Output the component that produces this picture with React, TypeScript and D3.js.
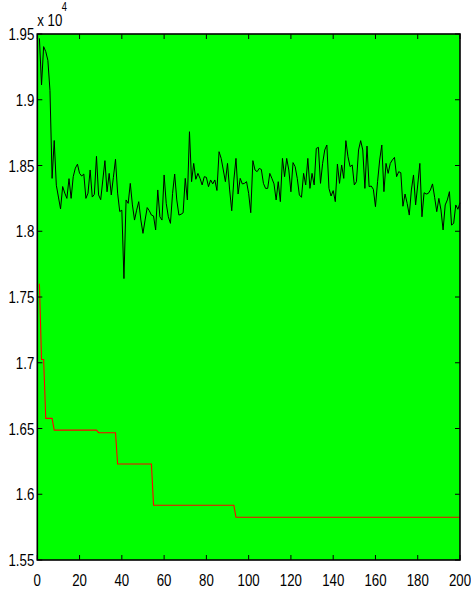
import React from "react";
import * as d3 from "d3";

// Iteration index for each point of the per-iteration (black) series
const iterations: number[] = d3.range(1, 201);

// Per-iteration value (black line), raw units
const currentValues: number[] = [
  19467, 19112, 19404, 19366, 19300, 19070, 18402, 18690, 18350, 18260,
  18170, 18340, 18290, 18250, 18400, 18250, 18415, 18480, 18510, 18440,
  18420, 18435, 18250, 18290, 18466, 18260, 18280, 18570, 18276, 18240,
  18390, 18537, 18300, 18440, 18276, 18410, 18547, 18290, 18150, 18160,
  17640, 18238, 18212, 18364, 18200, 18085, 18160, 18225, 18085, 17984,
  18085, 18180, 18156, 18123, 18116, 18010, 18314, 18110, 18085, 18428,
  18212, 18110, 18060, 18288, 18435, 18238, 18123, 18129, 18140, 18402,
  18238, 18757, 18377, 18516, 18395, 18440, 18402, 18352, 18415, 18410,
  18339, 18390, 18360, 18390, 18310, 18605, 18554, 18466, 18377, 18516,
  18314, 18156, 18390, 18554, 18283, 18402, 18360, 18364, 18377, 18288,
  18141, 18537, 18466, 18453, 18478, 18470, 18364, 18326, 18326, 18440,
  18402, 18360, 18238, 18377, 18225, 18554, 18415, 18554, 18466, 18300,
  18522, 18491, 18402, 18276, 18258, 18440, 18352, 18554, 18326, 18440,
  18352, 18630, 18638, 18364, 18516, 18618, 18656, 18326, 18268, 18309,
  18225, 18511, 18364, 18504, 18402, 18689, 18567, 18491, 18504, 18352,
  18377, 18618, 18689, 18618, 18326, 18648, 18339, 18344, 18319, 18187,
  18377, 18542, 18656, 18301, 18516, 18440, 18516, 18542, 18562, 18415,
  18453, 18445, 18190, 18283, 18212, 18123, 18314, 18428, 18200, 18352,
  18516, 18110, 18293, 18283, 18288, 18314, 18360, 18258, 18149, 18250,
  18162, 18010, 18200, 18238, 18301, 18047, 18060, 18200, 18167, 18217,
];

// Best-so-far (red line): iteration where each level starts, and its value
const bestStepStart: number[] = [1, 2, 4, 8, 29, 38, 55, 94];
const bestStepValue: number[] = [17600, 17025, 16577, 16488, 16468, 16230, 15916, 15825];
const lastIteration = 200;

const xTicks: number[] = [0, 20, 40, 60, 80, 100, 120, 140, 160, 180, 200];
const yTicks: number[] = [15500, 16000, 16500, 17000, 17500, 18000, 18500, 19000, 19500];
const yTickLabels: string[] = ["1.55", "1.6", "1.65", "1.7", "1.75", "1.8", "1.85", "1.9", "1.95"];

const W = 471;
const H = 594;
const LEFT = 37.3;
const RIGHT = 460;
const TOP = 34;
const BOTTOM = 560;
const SX = 0.78;
const FONT = "'Liberation Sans', Arial, sans-serif";

export default function App() {
  const x = d3.scaleLinear().domain([0, 200]).range([LEFT, RIGHT]);
  const y = d3.scaleLinear().domain([15500, 19500]).range([BOTTOM, TOP]);

  const blackPts: [number, number][] = iterations.map((it, i) => [it, currentValues[i]]);
  const redPts: [number, number][] = [];
  bestStepStart.forEach((s, k) => {
    const end = k + 1 < bestStepStart.length ? bestStepStart[k + 1] - 1 : lastIteration;
    redPts.push([s, bestStepValue[k]]);
    if (end > s) redPts.push([end, bestStepValue[k]]);
  });

  const line = d3
    .line<[number, number]>()
    .x((d) => x(d[0]))
    .y((d) => y(d[1]));

  const tickLen = 5;

  return (
    <svg
      width={W}
      height={H}
      style={{ position: "absolute", left: 0, top: 0, background: "#ffffff" }}
    >
      <rect x={0} y={0} width={W} height={H} fill="#ffffff" />
      <rect x={LEFT} y={TOP} width={RIGHT - LEFT} height={BOTTOM - TOP} fill="#00ff00" />

      <path d={line(redPts) || ""} fill="none" stroke="#ff0000" strokeWidth={1.1} />
      <path d={line(blackPts) || ""} fill="none" stroke="#000000" strokeWidth={1} />

      {/* ticks */}
      {xTicks.map((t) => (
        <g key={"xt" + t}>
          <line x1={x(t)} x2={x(t)} y1={BOTTOM} y2={BOTTOM - tickLen} stroke="#000" strokeWidth={1} />
          <line x1={x(t)} x2={x(t)} y1={TOP} y2={TOP + tickLen} stroke="#000" strokeWidth={1} />
        </g>
      ))}
      {yTicks.map((t) => (
        <g key={"yt" + t}>
          <line x1={LEFT} x2={LEFT + tickLen} y1={y(t)} y2={y(t)} stroke="#000" strokeWidth={1} />
          <line x1={RIGHT} x2={RIGHT - tickLen} y1={y(t)} y2={y(t)} stroke="#000" strokeWidth={1} />
        </g>
      ))}

      <rect
        x={LEFT}
        y={TOP}
        width={RIGHT - LEFT}
        height={BOTTOM - TOP}
        fill="none"
        stroke="#000"
        strokeWidth={1.6}
      />

      {/* tick labels */}
      {xTicks.map((t) => (
        <text
          key={"xl" + t}
          transform={`translate(${x(t)},${586}) scale(${SX},1)`}
          textAnchor="middle"
          fontFamily={FONT}
          fontSize={17}
          fill="#000"
        >
          {String(t)}
        </text>
      ))}
      {yTicks.map((t, i) => (
        <text
          key={"yl" + t}
          transform={`translate(${LEFT - 3},${y(t) + 6}) scale(${SX},1)`}
          textAnchor="end"
          fontFamily={FONT}
          fontSize={17}
          fill="#000"
        >
          {yTickLabels[i]}
        </text>
      ))}

      {/* exponent label */}
      <text transform={`translate(${LEFT},${26}) scale(${SX},1)`} fontFamily={FONT} fontSize={17} fill="#000">
        x 10
      </text>
      <text transform={`translate(${LEFT + 24.5},${11}) scale(${SX},1)`} fontFamily={FONT} fontSize={12} fill="#000">
        4
      </text>
    </svg>
  );
}
